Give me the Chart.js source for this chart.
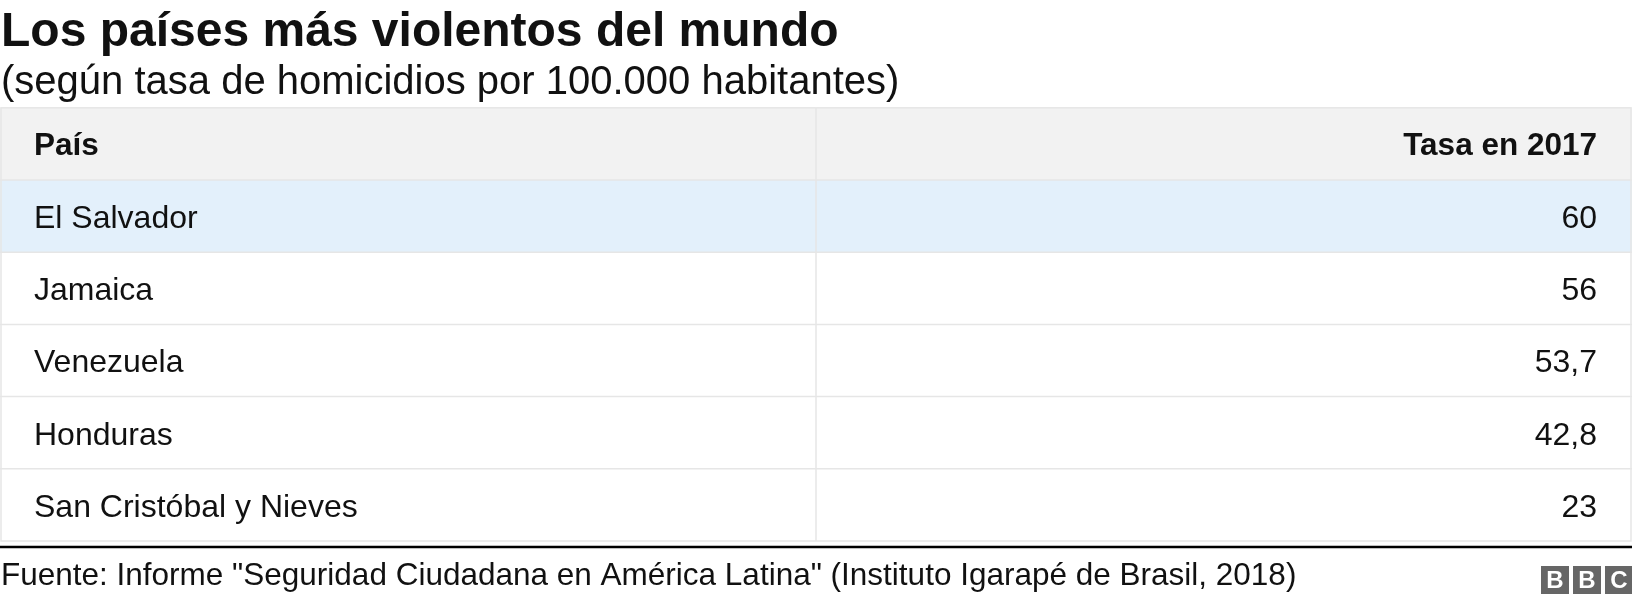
<!DOCTYPE html>
<html><head><meta charset="utf-8">
<script src="https://cdn.jsdelivr.net/npm/chart.js@4"></script>
<style>html,body{margin:0;padding:0;background:#fff}#w{width:1632px;height:602px}</style>
</head><body><div id="w"><canvas id="c"></canvas></div>
<script>
const title = "Los países más violentos del mundo";
const subtitle = "(según tasa de homicidios por 100.000 habitantes)";
const headers = ["País", "Tasa en 2017"];
const countries = ["El Salvador", "Jamaica", "Venezuela", "Honduras", "San Cristóbal y Nieves"];
const rates = [60, 56, 53.7, 42.8, 23];
const source = 'Fuente: Informe "Seguridad Ciudadana en América Latina" (Instituto Igarapé de Brasil, 2018)';
const F = '"Liberation Sans", Arial, sans-serif';
const fmt = v => String(v).replace('.', ',');

const tablePlugin = {
  id: 'table',
  afterDraw(chart) {
    const ctx = chart.ctx, y = chart.scales.y, a = chart.chartArea;
    const L = 0, R = 1632, div = 816;
    const rowH = Math.abs(y.getPixelForValue(1) - y.getPixelForValue(0));
    ctx.save();
    ctx.textBaseline = 'alphabetic';
    ctx.fillStyle = '#111';
    ctx.font = 'bold 48px ' + F; ctx.textAlign = 'left';
    ctx.fillText(title, 1, 46);
    ctx.font = '40px ' + F;
    ctx.fillText(subtitle, 1, 94);
    const hTop = a.top - rowH;
    ctx.fillStyle = '#f2f2f2'; ctx.fillRect(L, hTop, R - L, rowH);
    ctx.font = 'bold 31.5px ' + F; ctx.fillStyle = '#111'; ctx.textBaseline = 'middle';
    ctx.fillText(headers[0], 34, hTop + rowH / 2 + 2);
    ctx.textAlign = 'right'; ctx.fillText(headers[1], 1597, hTop + rowH / 2 + 2);
    countries.forEach((c, i) => {
      const cy = y.getPixelForValue(i), t = cy - rowH / 2;
      ctx.fillStyle = i === 0 ? '#e3f0fb' : '#fff';
      ctx.fillRect(L, t, R - L, rowH);
      ctx.strokeStyle = '#e6e6e6'; ctx.lineWidth = 1.5;
      ctx.beginPath(); ctx.moveTo(L, t); ctx.lineTo(R, t); ctx.stroke();
      ctx.font = '32px ' + F; ctx.fillStyle = '#111';
      ctx.textAlign = 'left'; ctx.fillText(c, 34, cy + 3);
      ctx.textAlign = 'right'; ctx.fillText(fmt(rates[i]), 1597, cy + 3);
    });
    ctx.strokeStyle = '#e6e6e6'; ctx.lineWidth = 1.5;
    ctx.strokeRect(L + 1, hTop, R - L - 2, a.bottom - hTop);
    ctx.beginPath(); ctx.moveTo(div, hTop); ctx.lineTo(div, a.bottom); ctx.stroke();
    ctx.strokeStyle = '#000'; ctx.lineWidth = 2.5;
    ctx.beginPath(); ctx.moveTo(0, 547); ctx.lineTo(1632, 547); ctx.stroke();
    ctx.fillStyle = '#111'; ctx.textAlign = 'left'; ctx.textBaseline = 'alphabetic'; ctx.font = '31.5px ' + F;
    ctx.fillText(source, 1, 585);
    const bx = [1541, 1573, 1605];
    ['B', 'B', 'C'].forEach((ch, i) => {
      ctx.fillStyle = '#666'; ctx.fillRect(bx[i], 566, 28, 28);
      ctx.fillStyle = '#fff'; ctx.font = 'bold 24px ' + F; ctx.textAlign = 'center'; ctx.textBaseline = 'middle';
      ctx.fillText(ch, bx[i] + 14, 581);
    });
    ctx.restore();
  }
};

new Chart(document.getElementById('c'), {
  type: 'bar',
  data: { labels: countries, datasets: [{ data: rates, backgroundColor: 'rgba(0,0,0,0)' }] },
  options: {
    indexAxis: 'y', responsive: true, maintainAspectRatio: false, animation: false,
    layout: { padding: { top: 180, bottom: 61, left: 0, right: 0 } },
    plugins: { legend: { display: false }, tooltip: { enabled: false } },
    scales: { y: { display: false }, x: { display: false, min: 0, max: 70 } }
  },
  plugins: [tablePlugin]
});
</script></body></html>
